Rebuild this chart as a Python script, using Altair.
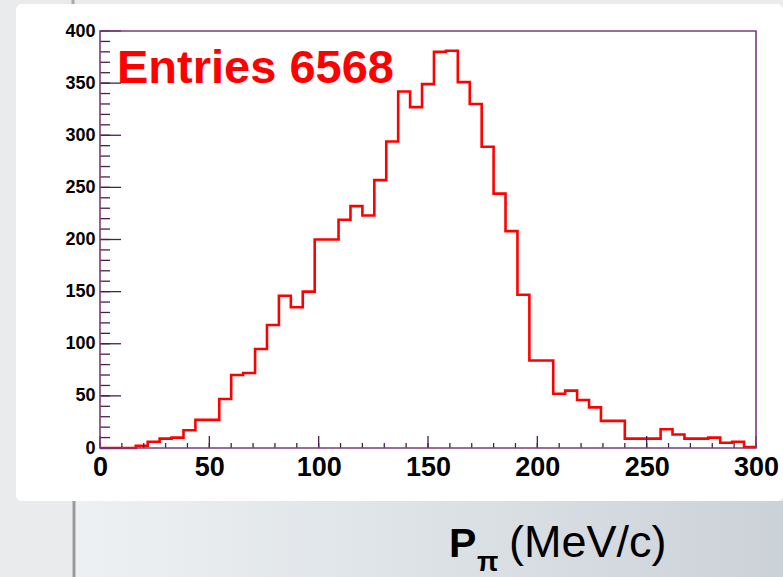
import altair as alt
import pandas as pd
import numpy as np

# ---- data ----
x_min, x_max = 0, 300
counts = [0, 0, 0, 2, 6, 9, 10, 17, 27, 27,
          47, 70, 72, 95, 118, 146, 135, 150, 200, 200,
          219, 232, 223, 257, 294, 342, 327, 349, 380, 381,
          351, 330, 289, 244, 208, 147, 84, 84, 52, 55,
          46, 39, 26, 26, 9, 9, 9, 18, 13, 9,
          9, 10, 5, 6, 1]
entries = 6568
x_tick_labels = [0, 50, 100, 150, 200, 250, 300]
y_tick_labels = [0, 50, 100, 150, 200, 250, 300, 350, 400]
x_minor_ticks = list(range(0, 301, 10))
y_minor_ticks = list(range(0, 401, 10))
title_main = "P"
title_sub = "π"
title_unit = "(MeV/c)"

# ---- build table ----
edges = np.linspace(x_min, x_max, len(counts) + 1)
hist = pd.DataFrame({"p": edges, "n": counts + [counts[-1]]})

W, H = 656, 417
FONT = "Liberation Sans"
FRAME = "#7b3b7b"
TICK = "#4a1f4a"

xs = alt.Scale(domain=[x_min, x_max], nice=False, zero=False)
ys = alt.Scale(domain=[0, 400], nice=False)

one = pd.DataFrame({"k": [0]})

panel = alt.Chart(one).mark_rect(color="white", cornerRadius=6).encode(
    x=alt.value(-84), x2=alt.value(W + 27), y=alt.value(-27), y2=alt.value(H + 53)
)

grad = alt.LinearGradient(
    gradient="linear", x1=0, x2=1, y1=0, y2=0,
    stops=[alt.GradientStop(color="#eef1f3", offset=0),
           alt.GradientStop(color="#dde2e6", offset=0.5),
           alt.GradientStop(color="#cbd2d8", offset=1)])
lower_bg = alt.Chart(one).mark_rect(color=grad).encode(
    x=alt.value(-26), x2=alt.value(W + 27), y=alt.value(H + 53), y2=alt.value(H + 146)
)
gray_line = alt.Chart(one).mark_rule(color="#9a9a9a", strokeWidth=3).encode(
    x=alt.value(-26), y=alt.value(H + 53), y2=alt.value(H + 146)
)
top_line = alt.Chart(one).mark_rule(color="#a8a8a8", strokeWidth=3).encode(
    x=alt.value(-27), y=alt.value(-31), y2=alt.value(-27)
)

line = alt.Chart(hist).mark_line(
    interpolate="step-after", color="#ff0000", strokeWidth=2.6, strokeJoin="miter"
).encode(
    x=alt.X("p:Q", scale=xs, title=None,
            axis=alt.Axis(values=x_tick_labels, ticks=False, domain=False, grid=False,
                          labelFontSize=27, labelFontWeight="bold", labelColor="black",
                          labelFont=FONT, labelPadding=6, labelFlush=False,
                          labelOverlap=False, labelBound=False, zindex=2)),
    y=alt.Y("n:Q", scale=ys, title=None,
            axis=alt.Axis(values=y_tick_labels, ticks=False, domain=False, grid=False,
                          labelFontSize=18, labelFontWeight="bold", labelColor="black",
                          labelFont=FONT, labelPadding=5, labelFlush=False,
                          labelOverlap=False, labelBound=False, zindex=2)),
)

xt = pd.DataFrame({"v": x_minor_ticks})
xt_major = pd.DataFrame({"v": x_tick_labels})
yt = pd.DataFrame({"v": y_minor_ticks})
yt_major = pd.DataFrame({"v": y_tick_labels})

x_minor = alt.Chart(xt).mark_rule(color=TICK, strokeWidth=1.3).encode(
    x=alt.X("v:Q", scale=xs), y=alt.value(H), y2=alt.value(H - 5))
x_major = alt.Chart(xt_major).mark_rule(color=TICK, strokeWidth=1.3).encode(
    x=alt.X("v:Q", scale=xs), y=alt.value(H), y2=alt.value(H - 12))
y_minor = alt.Chart(yt).mark_rule(color=TICK, strokeWidth=1.3).encode(
    y=alt.Y("v:Q", scale=ys), x=alt.value(0), x2=alt.value(10))
y_major = alt.Chart(yt_major).mark_rule(color=TICK, strokeWidth=1.3).encode(
    y=alt.Y("v:Q", scale=ys), x=alt.value(0), x2=alt.value(21))

frame = alt.Chart(one).mark_rect(fill=None, stroke=FRAME, strokeWidth=1.6).encode(
    x=alt.value(0), x2=alt.value(W), y=alt.value(0), y2=alt.value(H)
)

entries_txt = alt.Chart(pd.DataFrame({"t": [f"Entries {entries}"]})).mark_text(
    align="left", baseline="alphabetic", font=FONT, fontSize=47, fontWeight="bold",
    color="#ff0000"
).encode(text="t:N", x=alt.value(17), y=alt.value(52))

t_main = alt.Chart(pd.DataFrame({"t": [title_main]})).mark_text(
    align="left", baseline="alphabetic", font=FONT, fontSize=41, fontWeight="bold",
    color="black"
).encode(text="t:N", x=alt.value(349), y=alt.value(526))
t_sub = alt.Chart(pd.DataFrame({"t": [title_sub]})).mark_text(
    align="left", baseline="alphabetic", font=FONT, fontSize=28, fontWeight="bold",
    color="black"
).encode(text="t:N", x=alt.value(377), y=alt.value(540))
t_unit = alt.Chart(pd.DataFrame({"t": [title_unit]})).mark_text(
    align="left", baseline="alphabetic", font=FONT, fontSize=45, fontWeight="normal",
    color="black"
).encode(text="t:N", x=alt.value(409), y=alt.value(526))

chart = alt.layer(
    panel, lower_bg, gray_line, top_line, line,
    x_minor, x_major, y_minor, y_major, frame,
    entries_txt, t_main, t_sub, t_unit
).properties(
    width=W, height=H,
    autosize=alt.AutoSizeParams(type="none"),
    padding={"left": 100, "top": 31, "right": 27, "bottom": 129},
    background="#eaebec",
).configure_view(stroke=None)

chart.save("out.html", embed_options={"renderer": "svg", "actions": False})
